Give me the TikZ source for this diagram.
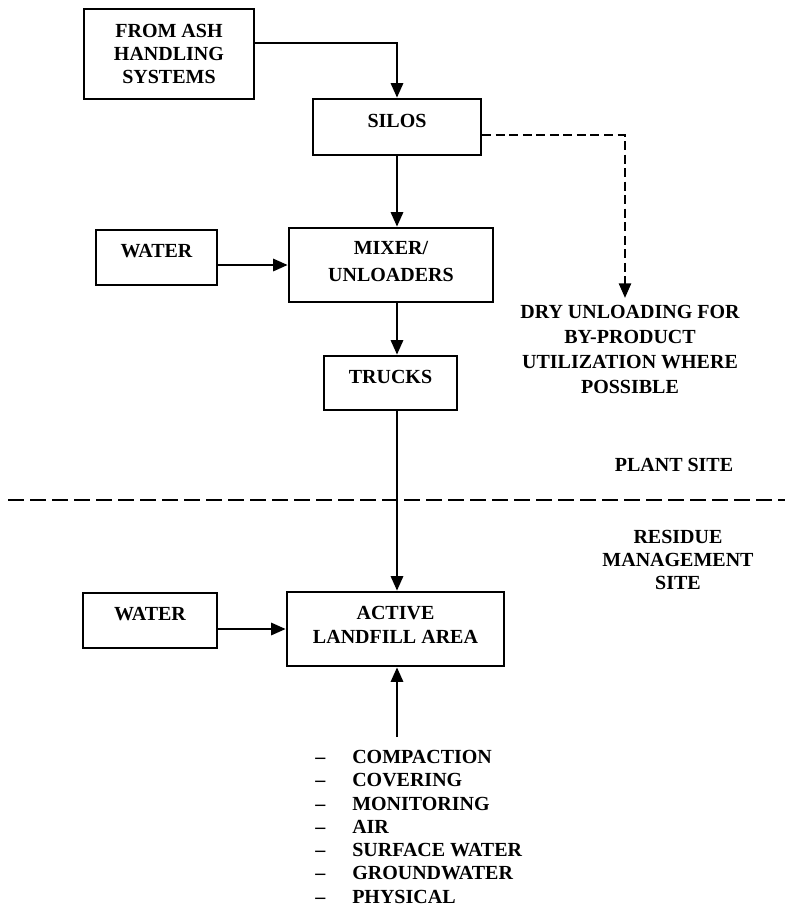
\documentclass[tikz,border=0pt]{standalone}
\usepackage{fontspec}
\setmainfont{Liberation Serif}
\usetikzlibrary{arrows.meta}
\begin{document}
\begin{tikzpicture}[x=0.75pt,y=-0.75pt,
  every node/.style={font=\bfseries\fontsize{15}{17.5}\selectfont, inner sep=0pt},
  box/.style={draw, line width=1.8pt, rectangle},
  onebox/.style={box, text depth=9.75pt},
  arr/.style={line width=2.2pt, -{Triangle[length=11pt,width=9pt]}},
  darr/.style={line width=1.9pt, dash pattern=on 6.75pt off 3.4pt, -{Triangle[length=11pt,width=9pt]}},
  divider/.style={line width=1.8pt, dash pattern=on 12pt off 4.5pt},
  txt/.style={align=center}
]
\useasboundingbox (0,0) rectangle (785,908);

% boxes
\node[box, minimum width=170*0.75pt, minimum height=90*0.75pt, align=center,
      font=\bfseries\fontsize{15}{17.25}\selectfont] (ash) at (169,54) {FROM ASH\\HANDLING\\SYSTEMS};
\node[onebox, minimum width=168*0.75pt, minimum height=56*0.75pt] (silos) at (397,127) {SILOS};
\node[box, minimum width=204*0.75pt, minimum height=74*0.75pt, align=center, text depth=5.25pt,
      font=\bfseries\fontsize{15}{20.25}\selectfont] (mixer) at (391,265) {MIXER/\\UNLOADERS};
\node[onebox, minimum width=121*0.75pt, minimum height=55*0.75pt] (water1) at (156.5,257.5) {WATER};
\node[onebox, minimum width=133*0.75pt, minimum height=54*0.75pt] (trucks) at (390.5,383) {TRUCKS};
\node[onebox, minimum width=134*0.75pt, minimum height=55*0.75pt] (water2) at (150,620.5) {WATER};
\node[box, minimum width=217*0.75pt, minimum height=74*0.75pt, align=center, text depth=6pt,
      font=\bfseries\fontsize{15}{18}\selectfont] (active) at (395.5,629) {ACTIVE\\LANDFILL AREA};

% free texts
\node[txt, font=\bfseries\fontsize{15}{18.75}\selectfont] (dry) at (630,349.5)
  {DRY UNLOADING FOR\\BY-PRODUCT\\UTILIZATION WHERE\\POSSIBLE};
\node (plant) at (674,465) {PLANT SITE};
\node[txt, font=\bfseries\fontsize{15}{17.5}\selectfont] (residue) at (678,560)
  {RESIDUE\\MANAGEMENT\\SITE};

% list
\foreach \name/\t [count=\i from 0] in {l1/COMPACTION,l2/COVERING,l3/MONITORING,l4/AIR,l5/SURFACE WATER,l6/GROUNDWATER,l7/PHYSICAL}
  \node[anchor=west] (\name) at (315,757+23.3*\i) {\makebox[27.75pt][l]{--}\t};

% coordinates
\coordinate (ashout) at (254,43);
\coordinate (dryturn) at (625,135);
\coordinate (dryend) at (625,298);
\coordinate (listtop) at (397,737);
\coordinate (divl) at (8,500);
\coordinate (divr) at (785,500);

% connectors
\draw[arr] (ashout) -| (silos.north);
\draw[arr] (silos.south) -- (silos.south |- mixer.north);
\draw[darr] (silos.east |- dryturn) -- (dryturn) -- (dryend);
\draw[arr] (water1.east |- mixer.west) -- (mixer.west);
\draw[arr] (mixer.south -| silos.south) -- (trucks.north -| silos.south);
\draw[arr] (trucks.south -| silos.south) -- (active.north -| silos.south);
\draw[arr] (water2.east |- active.west) -- (active.west);
\draw[arr] (listtop) -- (listtop |- active.south);
\draw[divider] (divl) -- (divr);
\end{tikzpicture}
\end{document}
